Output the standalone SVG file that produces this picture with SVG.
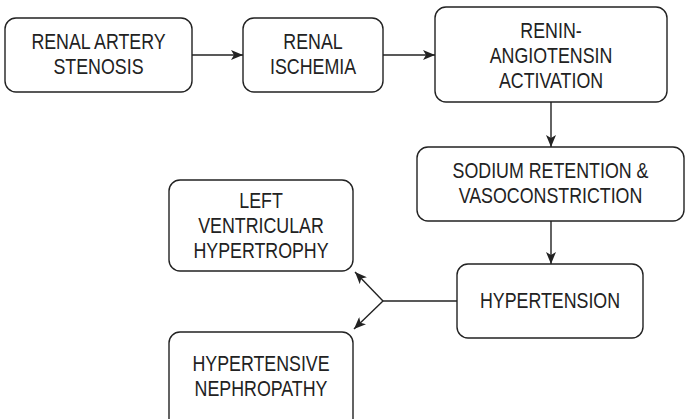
<svg xmlns="http://www.w3.org/2000/svg" width="686" height="419" viewBox="0 0 686 419">
<defs>
<marker id="ah" markerWidth="12" markerHeight="10" refX="12" refY="5" orient="auto" markerUnits="userSpaceOnUse">
<path d="M0,0 L12,5 L0,10 L3,5 Z" fill="#222"/>
</marker>
</defs>
<style>
.box{fill:#fff;stroke:#222;stroke-width:1.4}
.lbl{font-family:"Liberation Sans",Arial,sans-serif;font-size:22px;fill:#222;text-anchor:middle}
.con{fill:none;stroke:#222;stroke-width:1.4}
</style>
<rect width="686" height="419" fill="#fff"/>
<g id="n1">
<rect class="box" x="5" y="18" width="187" height="74" rx="11"/>
<text class="lbl" transform="translate(98.5,0) scale(0.81,1)"><tspan x="0" y="49">RENAL ARTERY</tspan><tspan x="0" y="74">STENOSIS</tspan></text>
</g>
<g id="n2">
<rect class="box" x="243" y="18" width="140" height="74" rx="11"/>
<text class="lbl" transform="translate(313,0) scale(0.81,1)"><tspan x="0" y="49">RENAL</tspan><tspan x="0" y="74">ISCHEMIA</tspan></text>
</g>
<g id="n3">
<rect class="box" x="435" y="7" width="232" height="95" rx="11"/>
<text class="lbl" transform="translate(551,0) scale(0.81,1)"><tspan x="0" y="38">RENIN-</tspan><tspan x="0" y="63">ANGIOTENSIN</tspan><tspan x="0" y="88">ACTIVATION</tspan></text>
</g>
<g id="n4">
<rect class="box" x="417" y="147" width="267" height="74" rx="11"/>
<text class="lbl" transform="translate(550.5,0) scale(0.81,1)"><tspan x="0" y="178">SODIUM RETENTION &amp;</tspan><tspan x="0" y="203">VASOCONSTRICTION</tspan></text>
</g>
<g id="n5">
<rect class="box" x="457" y="264" width="186" height="74" rx="11"/>
<text class="lbl" transform="translate(550,0) scale(0.81,1)"><tspan x="0" y="308">HYPERTENSION</tspan></text>
</g>
<g id="n6">
<rect class="box" x="169" y="180" width="184" height="91" rx="11"/>
<text class="lbl" transform="translate(261,0) scale(0.81,1)"><tspan x="0" y="208">LEFT</tspan><tspan x="0" y="233">VENTRICULAR</tspan><tspan x="0" y="258">HYPERTROPHY</tspan></text>
</g>
<g id="n7">
<rect class="box" x="169" y="332" width="184" height="100" rx="11"/>
<text class="lbl" transform="translate(261,0) scale(0.81,1)"><tspan x="0" y="371">HYPERTENSIVE</tspan><tspan x="0" y="396">NEPHROPATHY</tspan></text>
</g>
<g id="connectors">
<line class="con" x1="192" y1="55" x2="243" y2="55" marker-end="url(#ah)"/>
<line class="con" x1="383" y1="55" x2="435" y2="55" marker-end="url(#ah)"/>
<line class="con" x1="551" y1="102" x2="551" y2="147" marker-end="url(#ah)"/>
<line class="con" x1="551" y1="221" x2="551" y2="264" marker-end="url(#ah)"/>
<line class="con" x1="457" y1="301" x2="383" y2="301"/>
<line class="con" x1="383" y1="301" x2="355" y2="272" marker-end="url(#ah)"/>
<line class="con" x1="383" y1="301" x2="354" y2="329" marker-end="url(#ah)"/>
</g>
</svg>
